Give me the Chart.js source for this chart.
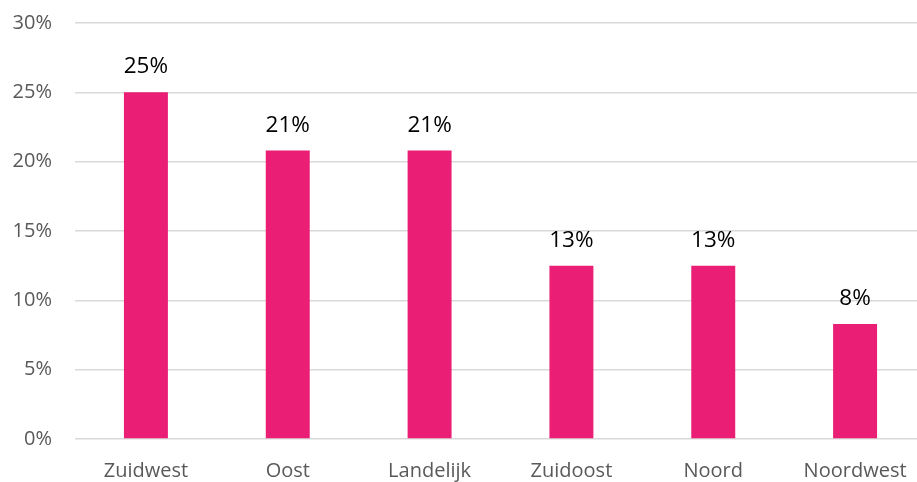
<!DOCTYPE html>
<html>
<head>
<meta charset="utf-8">
<script src="https://cdn.jsdelivr.net/npm/chart.js@4.4.0/dist/chart.umd.min.js"></script>
<style>
  html, body { margin: 0; padding: 0; background: #fff; overflow: hidden; }
  #wrap { position: relative; width: 926px; height: 482px; }
</style>
</head>
<body>
<div id="wrap"><canvas id="bar-chart"></canvas></div>
<script>
// regio's en aandeel (%)
const regios = ["Zuidwest", "Oost", "Landelijk", "Zuidoost", "Noord", "Noordwest"];
const aandeel = [25, 20.8, 20.8, 12.5, 12.5, 8.3];
const yTicks = [0, 5, 10, 15, 20, 25, 30];

// labels boven de staven
const labelPlugin = {
  id: "barLabels",
  afterDatasetsDraw(chart) {
    const ctx = chart.ctx;
    const meta = chart.getDatasetMeta(0);
    ctx.save();
    ctx.fillStyle = "#000";
    ctx.font = "22.5px 'Open Sans'";
    ctx.textAlign = "center";
    ctx.textBaseline = "alphabetic";
    meta.data.forEach((bar, i) => {
      ctx.fillText(Math.round(aandeel[i]) + "%", bar.x, bar.y - 19);
    });
    ctx.restore();
  }
};

const ctx = document.getElementById("bar-chart").getContext("2d");
new Chart(ctx, {
  type: "bar",
  data: {
    labels: regios,
    datasets: [{
      data: aandeel,
      backgroundColor: "#e91e74",
      barPercentage: 0.31,
      categoryPercentage: 1
    }]
  },
  options: {
    responsive: true,
    maintainAspectRatio: false,
    animation: false,
    layout: { padding: { top: 23, left: 0, right: 0, bottom: 0 } },
    plugins: { legend: { display: false }, tooltip: { enabled: false } },
    scales: {
      x: {
        grid: { display: false },
        border: { display: false },
        afterFit(axis) { axis.height = 43; },
        ticks: { color: "#595959", font: { family: "Open Sans", size: 20 }, padding: 12 }
      },
      y: {
        min: 0,
        max: 30,
        afterBuildTicks(axis) { axis.ticks = yTicks.map(v => ({ value: v })); },
        afterFit(axis) { axis.width = 75; axis.paddingTop = 0; axis.paddingBottom = 0; },
        grid: { color: "#d9d9d9", lineWidth: 1.5, drawTicks: false },
        border: { display: false },
        ticks: {
          color: "#595959",
          font: { family: "Open Sans", size: 20 },
          padding: 23,
          callback: v => v + "%"
        }
      }
    }
  },
  plugins: [labelPlugin]
});
</script>
</body>
</html>
